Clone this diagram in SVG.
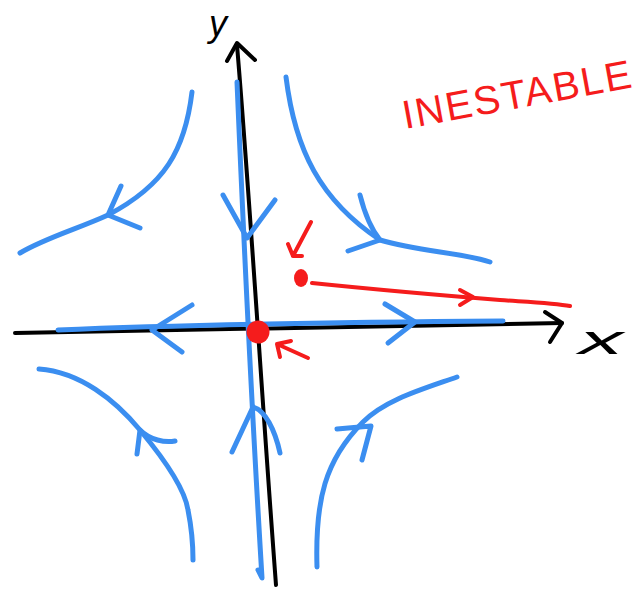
<svg xmlns="http://www.w3.org/2000/svg" width="639" height="590" viewBox="0 0 639 590">
<style>
.ax{fill:none;stroke:#000;stroke-width:4;stroke-linecap:round;stroke-linejoin:round}
.bl{fill:none;stroke:#3b8ef0;stroke-width:5;stroke-linecap:round;stroke-linejoin:round}
.rd{fill:none;stroke:#f51c1c;stroke-width:4;stroke-linecap:round;stroke-linejoin:round}
.lab{font-family:"Liberation Sans",Arial,sans-serif;font-style:italic;fill:#000}
.red{font-family:"Liberation Sans",Arial,sans-serif;fill:#f51c1c}
</style>
<rect width="639" height="590" fill="#fff"/>
<g id="axes">
  <path class="ax" d="M15,333 C150,331 300,328 562,323"/>
  <path class="ax" d="M545,312 L562,323 L550,342"/>
  <path class="ax" d="M237,45 C250,200 262,400 276,585"/>
  <path class="ax" d="M227,61 L237,43 L255,60"/>
  <text class="lab" x="209" y="36" font-size="36">y</text>
  <text class="lab" x="579" y="354" font-size="40" textLength="44" lengthAdjust="spacingAndGlyphs">x</text>
</g>
<g id="trajectories">
  <path class="bl" d="M58,330 C150,326 250,323 503,321"/>
  <path class="bl" d="M192,305 L152,330 L182,352"/>
  <path class="bl" d="M385,304 L415,322 L388,343"/>
  <path class="bl" d="M237,82 C242,200 250,380 262,578 L258,570"/>
  <path class="bl" d="M223,195 L247,238 L275,200"/>
  <path class="bl" d="M232,452 L253,407 C265,410 275,430 280,453"/>
  <path class="bl" d="M192,92 C185,150 165,185 108,215 C80,228 45,238 20,253"/>
  <path class="bl" d="M121,186 L108,215 L140,228"/>
  <path class="bl" d="M286,77 C295,150 320,200 380,240 C420,252 460,252 490,262"/>
  <path class="bl" d="M360,195 C365,215 372,230 380,240 L348,251"/>
  <path class="bl" d="M39,369 C80,372 115,400 140,430 C165,460 185,490 188,510 C192,530 193,545 193,560"/>
  <path class="bl" d="M137,454 L140,430 C150,440 165,443 175,441"/>
  <path class="bl" d="M317,567 C315,500 325,460 363,422 C385,400 420,390 457,377"/>
  <path class="bl" d="M337,429 L371,426 L362,460"/>
</g>
<g id="unstable-point">
  <circle cx="258" cy="332" r="11.5" fill="#f51c1c"/>
  <path class="rd" d="M308,358 L277,344 M277,344 L291,341 M277,344 L280,357"/>
</g>
<g id="initial-point">
  <ellipse cx="301" cy="278" rx="7" ry="9" fill="#f51c1c"/>
  <path class="rd" d="M311,222 L293,256 M288,244 L293,256 L302,256"/>
  <path class="rd" d="M312,283 C380,290 450,296 500,300 C530,302 555,303 570,306"/>
  <path class="rd" d="M460,290 L473,297 L460,305"/>
</g>
<g id="label">
  <text class="red" x="405" y="129" font-size="40" textLength="232" lengthAdjust="spacing" transform="rotate(-10.4 405 129)">INESTABLE</text>
</g>
</svg>
